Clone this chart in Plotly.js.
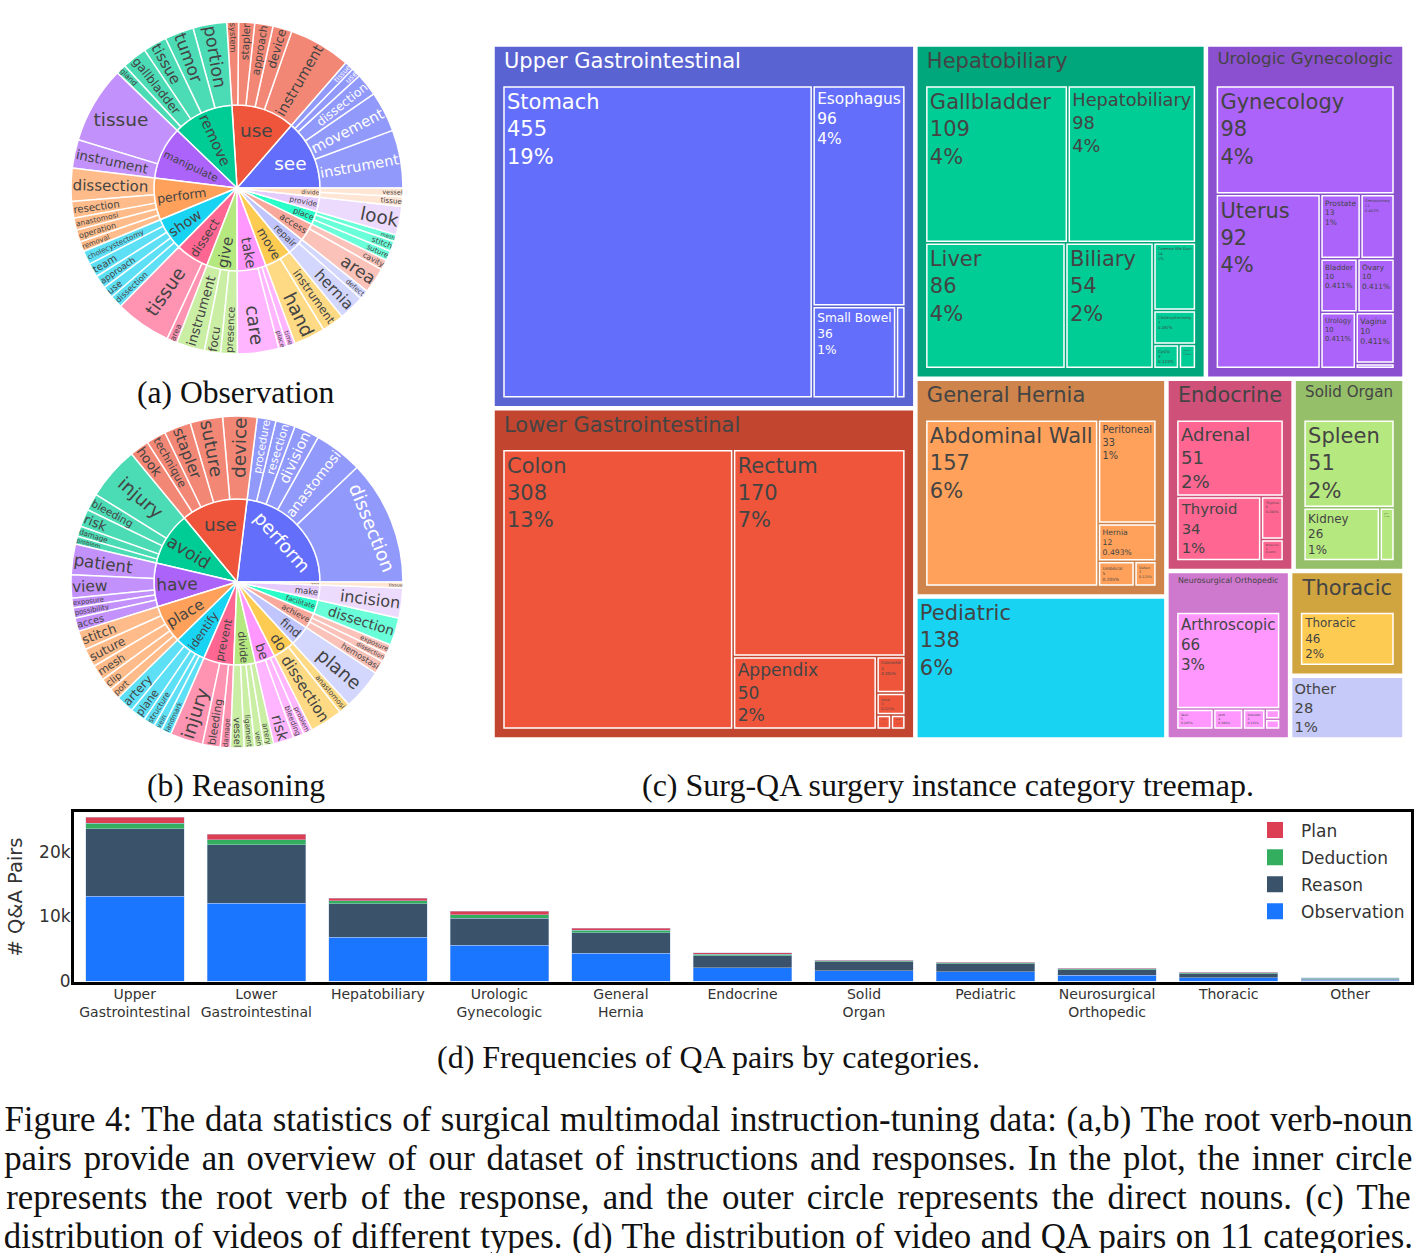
<!DOCTYPE html>
<html>
<head>
<meta charset="utf-8">
<script src="https://cdn.plot.ly/plotly-3.0.1.min.js"></script>
<style>html,body{margin:0;padding:0;background:#fff}#c{width:1425px;height:1253px}
g.annotation[data-index="4"] text{word-spacing:1px}
g.annotation[data-index="5"] text{word-spacing:3.1px}
g.annotation[data-index="6"] text{word-spacing:4.6px}
g.annotation[data-index="7"] text{word-spacing:0.9px}
</style>
</head>
<body>
<div id="c"></div>
<script>
var rootColors = ['#636efa','#ef553b','#00cc96','#ab63fa','#ffa15a','#19d3f3','#ff6692','#b6e880','#ff97ff','#fecb52','#c1c5fd','#f9a99c','#2affc9','#e6ccfd','#ffdcc2'];

var obsRoots = ['see','use','remove','manipulate','perform','show','dissect','give','take','move','repair','access','place','provide','divide'];
var obsLabels = ['instrument','movement','dissection','use','tissue',
 'instrument','device','approach','stapler','system',
 'portion','tumor','tissue','gallbladder','gland',
 'tissue','instrument',
 'dissection','resection','anastomosi','operation','removal',
 'cholecystectomy','team','approach','use','dissection',
 'tissue','area',
 'instrument','focu','presence',
 'care','place','time',
 'hand','instrument',
 'hernia','defect',
 'area','cavity',
 'suture','stitch','mesh',
 'look',
 'tissue','vessel'];
var obsParents = ['see','see','see','see','see',
 'use','use','use','use','use',
 'remove','remove','remove','remove','remove',
 'manipulate','manipulate',
 'perform','perform','perform','perform','perform',
 'show','show','show','show','show',
 'dissect','dissect',
 'give','give','give',
 'take','take','take',
 'move','move',
 'repair','repair',
 'access','access',
 'place','place','place',
 'provide',
 'divide','divide'];
var obsValues = [20.3,14.2,8,3.3,3.2,
 21.7,6.7,6.4,5.6,4.1,
 11.8,10.2,8.3,8.7,3.5,
 27,10,
 11.6,5.8,4.2,4.3,3.5,
 4.8,4.9,4.7,4.1,4.4,
 19.7,3.6,
 9.9,5.7,5.8,
 14.5,2.9,2.9,
 11,7.8,
 9,3.3,
 9,3.6,
 3.4,3.6,2.4,
 10,
 3.4,3];

var reaRoots = ['perform','use','avoid','have','place','identify','prevent','divide','be','do','find','achieve','facilitate','make','remove'];
var reaLabels = ['dissection','anastomosi','division','resection','procedure',
 'device','suture','stapler','technique','hook',
 'injury','bleeding','risk','damage','problem',
 'patient','view','exposure','possibility','acces',
 'stitch','suture','mesh','clip','port',
 'artery','plane','structure','vein','landmark',
 'injury','bleeding','damage',
 'vessel','ligament','vein','artery',
 'risk','bleeding','problem',
 'dissection','anastomosi',
 'plane',
 'hemostasi','dissection','exposure',
 'dissection',
 'incision',
 'tissue'];
var reaParents = ['perform','perform','perform','perform','perform',
 'use','use','use','use','use',
 'avoid','avoid','avoid','avoid','avoid',
 'have','have','have','have','have',
 'place','place','place','place','place',
 'identify','identify','identify','identify','identify',
 'prevent','prevent','prevent',
 'divide','divide','divide','divide',
 'be','be','be',
 'do','do',
 'find',
 'achieve','achieve','achieve',
 'facilitate',
 'make',
 'remove'];
var reaValues = [43.7,17,8.9,6.8,6.6,
 12,11.4,9.4,6.9,6.8,
 18.7,6,6.2,3.6,2.8,
 10.7,8.1,3.4,3.6,4.7,
 6.7,6.5,5.5,4.4,3.9,
 6.3,5.4,4,3,3.5,
 11.5,6.2,3.5,
 4.8,3.7,3.2,3.4,
 7.2,3.7,3.2,
 11.5,4,
 14.3,
 4.6,3.1,3.3,
 9.7,
 10.5,
 2.1];

var treeGroups = ['Upper Gastrointestinal','Lower Gastrointestinal','Hepatobiliary','Urologic Gynecologic','General Hernia','Endocrine','Solid Organ','Neurosurgical Orthopedic','Thoracic '];
var treeGroupColors = ['#5a63d2','#c1452f','#00a67c','#8b50cf','#ce844a','#cf5078','#96bf6a','#ce78ce','#d0a53f'];
var treeLeafColors = ['#636efa','#ef553b','#00cc96','#ab63fa','#ffa15a','#ff6692','#b6e880','#ff97ff','#fecb52'];
var treeTextColors = ['#fff','#444','#444','#444','#444','#444','#444','#444','#444'];
var treeLabels = ['Stomach','Esophagus','Small Bowel','Duodenum',
 'Colon','Rectum','Appendix','Colorectal','Anus','Cecum','Sigmoid',
 'Gallbladder','Hepatobiliary','Liver','Biliary','Common Bile Duct','Cholecystectomy','Cystic','Hepatic',
 'Gynecology','Uterus','Prostate','Genitourinary','Bladder','Ovary','Urology','Vagina','Ureter',
 'Abdominal Wall','Peritoneal','Hernia','Umbilical','Defect',
 'Adrenal','Thyroid','Thymus','Endocrine',
 'Spleen','Kidney','Renal',
 'Arthroscopic','Skull','Joint','Shoulder','Spine','Knee',
 'Thoracic'];
var treeParents = ['Upper Gastrointestinal','Upper Gastrointestinal','Upper Gastrointestinal','Upper Gastrointestinal',
 'Lower Gastrointestinal','Lower Gastrointestinal','Lower Gastrointestinal','Lower Gastrointestinal','Lower Gastrointestinal','Lower Gastrointestinal','Lower Gastrointestinal',
 'Hepatobiliary','Hepatobiliary','Hepatobiliary','Hepatobiliary','Hepatobiliary','Hepatobiliary','Hepatobiliary','Hepatobiliary',
 'Urologic Gynecologic','Urologic Gynecologic','Urologic Gynecologic','Urologic Gynecologic','Urologic Gynecologic','Urologic Gynecologic','Urologic Gynecologic','Urologic Gynecologic','Urologic Gynecologic',
 'General Hernia','General Hernia','General Hernia','General Hernia','General Hernia',
 'Endocrine','Endocrine','Endocrine','Endocrine',
 'Solid Organ','Solid Organ','Solid Organ',
 'Neurosurgical Orthopedic','Neurosurgical Orthopedic','Neurosurgical Orthopedic','Neurosurgical Orthopedic','Neurosurgical Orthopedic','Neurosurgical Orthopedic',
 'Thoracic '];
var treeValues = [455,96,36,4, 308,170,50,5,3,1,1, 109,98,86,54,14,7,3,2, 98,92,13,11,10,10,10,10,1, 157,33,12,5,3, 51,34,6,3, 51,26,5, 66,5,4,3,1,1, 46];
var treeSoloLabels = ['Pediatric','Other'];
var treeSoloValues = [138,28];
var treeSoloColors = ['#19d3f3','#c6caf9'];

var barCats = ['Upper<br>Gastrointestinal','Lower<br>Gastrointestinal','Hepatobiliary','Urologic<br>Gynecologic','General<br>Hernia','Endocrine','Solid<br>Organ','Pediatric','Neurosurgical<br>Orthopedic','Thoracic','Other'];
var barObservation = [13140,12010,6750,5500,4280,2060,1600,1440,880,520,160];
var barReason = [10420,9070,5210,4240,3190,1860,1390,1240,870,610,150];
var barDeduction = [820,780,440,520,420,200,150,150,150,160,100];
var barPlan = [920,820,380,510,310,260,110,110,110,100,110];
var legendNames = ['Plan','Deduction','Reason','Observation'];
var legendColors = ['#dc3f54','#33ae5f','#3a536b','#1a75ff'];

var captions = [
 ['(a) Observation', 236, 392, 31.6],
 ['(b) Reasoning', 236, 785, 31.6],
 ['(c) Surg-QA surgery instance category treemap.', 948, 785, 32],
 ['(d) Frequencies of QA pairs by categories.', 708, 1057, 32]
];
var bodyLines = [
 ['Figure 4: The data statistics of surgical multimodal instruction-tuning data: (a,b) The root verb-noun', 1119],
 ['pairs provide an overview of our dataset of instructions and responses. In the plot, the inner circle', 1158],
 ['represents the root verb of the response, and the outer circle represents the direct nouns. (c) The', 1197],
 ['distribution of videos of different types. (d) The distribution of video and QA pairs on 11 categories.', 1236]
];

var W = 1425, H = 1253;
function dx(a,b){return [a/W,b/W];}
function dy(top,bot){return [1-bot/H,1-top/H];}

function sun(roots, labels, parents, values, prefix, domX, domY){
  var ids=[],lab=[],par=[],val=[],col=[];
  roots.forEach(function(r,i){
    ids.push(prefix+r);lab.push(r);par.push('');val.push(0);col.push(rootColors[i]);
    labels.forEach(function(l,j){
      if(parents[j]===r){
        ids.push(prefix+r+'/'+l);lab.push(l);par.push(prefix+r);val.push(values[j]);col.push(rootColors[i]);
      }
    });
  });
  return {type:'sunburst',ids:ids,labels:lab,parents:par,values:val,branchvalues:'remainder',sort:false,
    marker:{colors:col,line:{color:'#fff',width:1.5}},leaf:{opacity:0.7},
    textfont:{family:'DejaVu Sans',size:18.5},insidetextorientation:'auto',
    domain:{x:domX,y:domY},hoverinfo:'skip'};
}

var tIds=[],tLab=[],tPar=[],tVal=[],tCol=[],tTxt=[];
treeGroups.forEach(function(g,i){
  tIds.push(g);tLab.push(g.trim());tPar.push('');tVal.push(0);tCol.push(treeGroupColors[i]);tTxt.push(treeTextColors[i]);
  treeLabels.forEach(function(l,j){
    if(treeParents[j]===g){tIds.push(g+'/'+l);tLab.push(l);tPar.push(g);tVal.push(treeValues[j]);tCol.push(treeLeafColors[i]);tTxt.push(treeTextColors[i]);}
  });
});
treeSoloLabels.forEach(function(l,i){tIds.push(l);tLab.push(l);tPar.push('');tVal.push(treeSoloValues[i]);tCol.push(treeSoloColors[i]);tTxt.push('#444');});

var treemap = {type:'treemap',ids:tIds,labels:tLab,parents:tPar,values:tVal,branchvalues:'remainder',
  textinfo:'label+value+percent root',
  marker:{colors:tCol,depthfade:false,line:{color:'#fff',width:1.5},pad:{t:41,l:10,r:10,b:10}},
  tiling:{pad:3,packing:'squarify'},pathbar:{visible:false},
  textfont:{family:'DejaVu Sans',size:21,color:tTxt},
  domain:{x:dx(484,1413),y:dy(5,748)},hoverinfo:'skip'};

function bar(name,y,color){
  return {type:'bar',name:name,showlegend:false,x:barCats,y:y,xaxis:'x',yaxis:'y',
    marker:{color:color,line:{color:'rgba(190,205,235,0.55)',width:0.8}},hoverinfo:'skip'};
}
var legendKeys = legendNames.map(function(n,i){
  return {type:'scatter',mode:'markers',name:n,legendgroup:n,x:[null],y:[null],xaxis:'x',yaxis:'y',
    marker:{symbol:'square',size:16,color:legendColors[i]},hoverinfo:'skip'};
});

var traces = [
  sun(obsRoots,obsLabels,obsParents,obsValues,'o:',dx(71,403),dy(22,354)),
  sun(reaRoots,reaLabels,reaParents,reaValues,'r:',dx(71,403),dy(416,748)),
  treemap,
  bar('Observation',barObservation,'#1a75ff'),
  bar('Reason',barReason,'#3a536b'),
  bar('Deduction',barDeduction,'#33ae5f'),
  bar('Plan',barPlan,'#dc3f54')
].concat(legendKeys);

var annotations = captions.map(function(c){
  return {text:c[0],xref:'paper',yref:'paper',x:c[1]/W,y:1-c[2]/H,xanchor:'center',yanchor:'middle',showarrow:false,
    font:{family:'Liberation Serif',size:c[3],color:'#111'}};
}).concat(bodyLines.map(function(b){
  return {text:b[0],xref:'paper',yref:'paper',x:708.5/W,y:1-b[1]/H,xanchor:'center',yanchor:'middle',showarrow:false,
    font:{family:'Liberation Serif',size:34.8,color:'#111'}};
}));

var layout = {
  width:W,height:H,margin:{l:0,r:0,t:0,b:0},paper_bgcolor:'#fff',plot_bgcolor:'#fff',
  font:{family:'DejaVu Sans',color:'#444'},
  barmode:'stack',bargap:0.19,
  xaxis:{domain:dx(74,1411),type:'category',range:[-0.5,10.5],showgrid:false,showline:true,mirror:true,linecolor:'#000',linewidth:3,ticks:'',
    ticklabelstandoff:-3,tickfont:{family:'DejaVu Sans',size:14,color:'#333'},automargin:false},
  yaxis:{domain:dy(812,982),range:[-150,26150],showgrid:false,showline:true,mirror:true,linecolor:'#000',linewidth:3,zeroline:false,
    ticklabelstandoff:-3,tickvals:[0,10000,20000],ticktext:['0','10k','20k'],tickfont:{family:'DejaVu Sans',size:17,color:'#333'},
    title:{text:'# Q&A Pairs',font:{family:'DejaVu Sans',size:19.5,color:'#333'},standoff:12},automargin:false},
  legend:{x:1249/W,y:1-812.5/H,xanchor:'left',yanchor:'top',traceorder:'grouped',tracegroupgap:2,itemwidth:42,
    bgcolor:'rgba(0,0,0,0)',font:{family:'DejaVu Sans',size:17,color:'#333'},itemclick:false},
  annotations:annotations,showlegend:true
};
Plotly.newPlot('c',traces,layout,{displayModeBar:false,staticPlot:true});
</script>
</body>
</html>
